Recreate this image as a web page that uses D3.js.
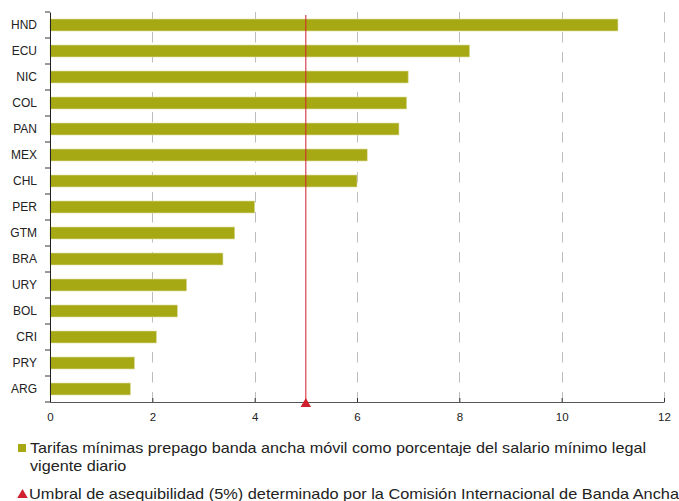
<!DOCTYPE html>
<html>
<head>
<meta charset="utf-8">
<script src="https://cdn.jsdelivr.net/npm/d3@7"></script>
<style>
  html, body { margin: 0; padding: 0; background: #fff; }
  svg { display: block; font-family: "Liberation Sans", Arial, sans-serif; }
</style>
</head>
<body>
<svg id="chart" width="679" height="501"></svg>
<script>
const categories = ["HND","ECU","NIC","COL","PAN","MEX","CHL","PER","GTM","BRA","URY","BOL","CRI","PRY","ARG"];
const values = [11.1, 8.2, 7.0, 6.97, 6.82, 6.2, 6.0, 4.0, 3.61, 3.38, 2.67, 2.49, 2.08, 1.65, 1.57];
const xTicks = [0, 2, 4, 6, 8, 10, 12];
const threshold = 5;
const legendBar = ["Tarifas mínimas prepago banda ancha móvil como porcentaje del salario mínimo legal", "vigente diario"];
const legendThreshold = "Umbral de asequibilidad (5%) determinado por la Comisión Internacional de Banda Ancha";

const svg = d3.select("#chart");
const barColor = "#a7a914";
const redColor = "#d0202e";

const x = d3.scaleLinear().domain([0, 12]).range([50, 664]);
const y = d3.scaleBand().domain(categories).range([12, 402]).paddingInner(0.54).paddingOuter(0.27);

// grid lines
svg.append("g").selectAll("line").data(xTicks.filter(d => d > 0)).join("line")
  .attr("x1", d => Math.round(x(d)) + 0.5).attr("x2", d => Math.round(x(d)) + 0.5)
  .attr("y1", 12).attr("y2", 402)
  .attr("stroke", "#bdbdbd").attr("stroke-width", 1)
  .attr("stroke-dasharray", "10.5,9.5");

// bars
svg.append("g").selectAll("rect").data(categories).join("rect")
  .attr("x", x(0))
  .attr("y", d => y(d))
  .attr("width", (d, i) => x(values[i]) - x(0))
  .attr("height", y.bandwidth())
  .attr("fill", barColor)
  .attr("stroke", "#d9da9a").attr("stroke-width", 0.6);

// threshold line
svg.append("line")
  .attr("x1", x(threshold)).attr("x2", x(threshold))
  .attr("y1", 15).attr("y2", 402)
  .attr("stroke", redColor).attr("stroke-width", 1);

// x axis
const xAxis = svg.append("g").attr("transform", "translate(0,402)")
  .call(d3.axisBottom(x).tickValues(xTicks).tickSize(-4).tickPadding(0).tickSizeOuter(0));
xAxis.select(".domain").attr("stroke", "#555");
xAxis.selectAll(".tick line").attr("stroke", "#333");
xAxis.selectAll("text").attr("y", 11).attr("font-size", 11.5).attr("fill", "#222")
  .attr("font-family", "Liberation Sans, Arial, sans-serif");

// y axis
const yAxis = svg.append("g").attr("transform", "translate(50,0)")
  .call(d3.axisLeft(y).tickSize(0).tickPadding(13));
yAxis.select(".domain").attr("stroke", "#222");
yAxis.selectAll("text").attr("font-size", 12).attr("fill", "#222").attr("font-family", "Liberation Sans, Arial, sans-serif");
// boundary ticks between categories
const boundaries = d3.range(categories.length + 1).map(i => 12 + i * y.step());
yAxis.append("g").selectAll("line").data(boundaries).join("line")
  .attr("x1", -5).attr("x2", 0)
  .attr("y1", d => d).attr("y2", d => d)
  .attr("stroke", "#333");

// triangle marker at threshold on axis
const tri = d3.symbol().type(d3.symbolTriangle).size(48);
svg.append("path").attr("d", tri())
  .attr("transform", `translate(${x(threshold)},404)`)
  .attr("fill", redColor);

// legend
const lg = svg.append("g");
lg.append("rect").attr("x", 18).attr("y", 444).attr("width", 8).attr("height", 8).attr("fill", barColor);
const t1 = lg.append("text").attr("x", 30).attr("y", 453).attr("font-size", 15).attr("fill", "#222");
const sp = t1.selectAll("tspan").data(legendBar).join("tspan")
  .attr("x", 30).attr("dy", (d, i) => i === 0 ? 0 : 18).text(d => d);
// stretch line widths to match reference
const w0 = sp.nodes()[0].getComputedTextLength();
const ratio = 616 / w0;
sp.each(function(d, i) {
  const w = this.getComputedTextLength();
  d3.select(this).attr("textLength", w * ratio).attr("lengthAdjust", "spacingAndGlyphs");
});
lg.append("path").attr("d", tri()).attr("transform", "translate(22.5,495)").attr("fill", redColor);
lg.append("text").attr("x", 29).attr("y", 499).attr("font-size", 15).attr("fill", "#222")
  .attr("textLength", 650).attr("lengthAdjust", "spacingAndGlyphs").text(legendThreshold);
</script>
</body>
</html>
